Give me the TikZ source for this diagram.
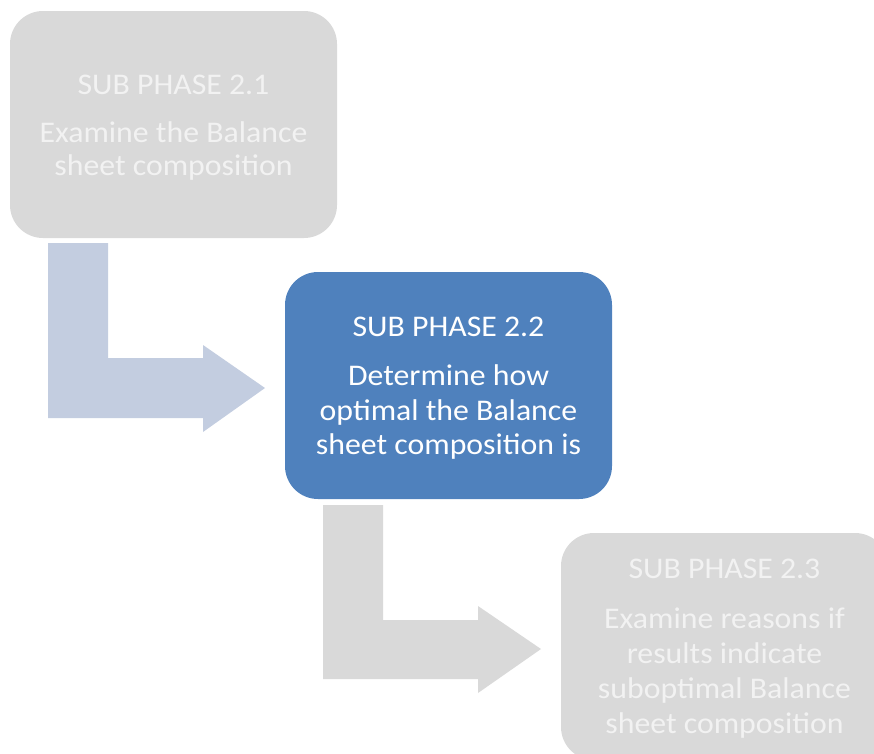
\documentclass[tikz,border=0pt]{standalone}
\usepackage{fontspec}
\setmainfont{Carlito}[FakeStretch=1.06]
\definecolor{boxgray}{HTML}{D9D9D9}
\definecolor{boxblue}{HTML}{4F81BD}
\definecolor{arrowblue}{HTML}{C3CDE0}
\definecolor{softwhite}{HTML}{F2F2F2}
\tikzset{
  phasebox/.style={rectangle, rounded corners=33pt, minimum width=327pt,
    minimum height=227pt, inner sep=0pt},
  idlebox/.style={phasebox, fill=boxgray},
  activebox/.style={phasebox, fill=boxblue},
  phasetxt/.style={inner sep=0pt, align=center, font=\fontsize{30}{#1}\selectfont},
  phasetxt/.default=34,
}
\newcommand{\phasetext}[2]{#1\\[15pt]#2}
\begin{document}
\begin{tikzpicture}[x=1pt, y=-1pt]
  \useasboundingbox (0,0) rectangle (874,753);
  \clip (0,0) rectangle (874,753);

  % phase boxes
  \node[idlebox] (p1) at (173.5,124.5) {};
  \node[activebox] (p2) at (448.5,385.5) {};
  \node[idlebox] (p3) at (724.5,646.5) {};

  % phase captions
  \node[phasetxt=33, text=softwhite] (t1) at ([yshift=-3pt]p1.center)
    {\phasetext{SUB PHASE 2.1}{Examine the Balance\\sheet composition}};
  \node[phasetxt=34.5, text=white] (t2) at ([yshift=-2.5pt]p2.center)
    {\phasetext{SUB PHASE 2.2}{Determine how\\optimal the Balance\\sheet composition is}};
  \node[phasetxt=35, text=softwhite] (t3) at ([yshift=-2pt]p3.center)
    {\phasetext{SUB PHASE 2.3}{Examine reasons if\\results indicate\\suboptimal Balance\\sheet composition}};

  % bent arrows between the phases
  \fill[arrowblue] (48,243) -- (108,243) -- (108,358) -- (203,358) -- (203,345)
    -- (265,388) -- (203,432) -- (203,418) -- (48,418) -- cycle;
  \fill[boxgray] (323,505) -- (383,505) -- (383,620) -- (478,620) -- (478,606)
    -- (541,649) -- (478,693) -- (478,679) -- (323,679) -- cycle;
\end{tikzpicture}
\end{document}
